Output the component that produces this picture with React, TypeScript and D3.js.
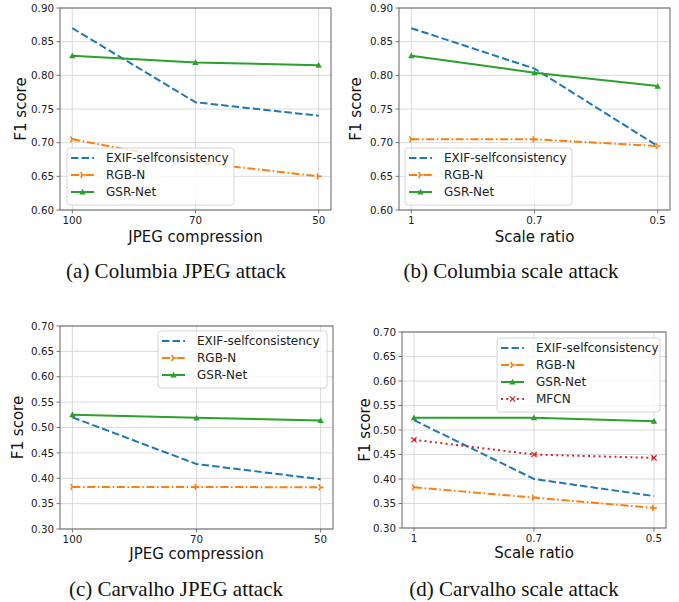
import React from 'react';
import * as d3 from 'd3';

// x categories
const jpegLevels = ['100', '70', '50'];
const scaleLevels = ['1', '0.7', '0.5'];

// y tick labels
const columbiaTicks = [0.6, 0.65, 0.7, 0.75, 0.8, 0.85, 0.9];
const carvalhoTicks = [0.3, 0.35, 0.4, 0.45, 0.5, 0.55, 0.6, 0.65, 0.7];

// (a) Columbia JPEG
const colJpegExif = [0.87, 0.76, 0.74];
const colJpegRgbn = [0.705, 0.671, 0.65];
const colJpegGsr = [0.829, 0.819, 0.815];

// (b) Columbia scale
const colScaleExif = [0.87, 0.81, 0.695];
const colScaleRgbn = [0.705, 0.705, 0.695];
const colScaleGsr = [0.829, 0.804, 0.784];

// (c) Carvalho JPEG
const carJpegExif = [0.52, 0.428, 0.398];
const carJpegRgbn = [0.383, 0.383, 0.382];
const carJpegGsr = [0.525, 0.519, 0.514];

// (d) Carvalho scale
const carScaleExif = [0.52, 0.4, 0.365];
const carScaleRgbn = [0.383, 0.362, 0.341];
const carScaleGsr = [0.525, 0.525, 0.518];
const carScaleMfcn = [0.48, 0.45, 0.443];

const seriesNames = ['EXIF-selfconsistency', 'RGB-N', 'GSR-Net', 'MFCN'];
const captions = [
  '(a) Columbia JPEG attack',
  '(b) Columbia scale attack',
  '(c) Carvalho JPEG attack',
  '(d) Carvalho scale attack'
];

const styles: any = {
  'EXIF-selfconsistency': { color: '#1f77b4', dash: '7.4,3.2', marker: 'none' },
  'RGB-N': { color: '#ff7f0e', dash: '8,2.6,1.6,2.6', marker: 'tri' },
  'GSR-Net': { color: '#2ca02c', dash: null, marker: 'up' },
  'MFCN': { color: '#d62728', dash: '2,3.3', marker: 'x' }
};

const panels = [
  {
    cats: jpegLevels, ticks: columbiaTicks, domain: [0.6, 0.9], xlabel: 'JPEG compression',
    data: [colJpegExif, colJpegRgbn, colJpegGsr],
    box: { l: 60, r: 331, t: 8, b: 210 }, ylabX: 20, xlabY: 241.5,
    legend: { x: 67, y: 148, w: 167 }, cap: { x: 176, y: 278 }
  },
  {
    cats: scaleLevels, ticks: columbiaTicks, domain: [0.6, 0.9], xlabel: 'Scale ratio',
    data: [colScaleExif, colScaleRgbn, colScaleGsr],
    box: { l: 399, r: 670, t: 8, b: 210 }, ylabX: 355, xlabY: 241.5,
    legend: { x: 405, y: 148, w: 167 }, cap: { x: 511, y: 278 }
  },
  {
    cats: jpegLevels, ticks: carvalhoTicks, domain: [0.3, 0.7], xlabel: 'JPEG compression',
    data: [carJpegExif, carJpegRgbn, carJpegGsr],
    box: { l: 60, r: 333, t: 326, b: 529 }, ylabX: 17, xlabY: 559,
    legend: { x: 158, y: 331, w: 169 }, cap: { x: 176, y: 596 }
  },
  {
    cats: scaleLevels, ticks: carvalhoTicks, domain: [0.3, 0.7], xlabel: 'Scale ratio',
    data: [carScaleExif, carScaleRgbn, carScaleGsr, carScaleMfcn],
    box: { l: 402, r: 666, t: 332, b: 528 }, ylabX: 364, xlabY: 557.5,
    legend: { x: 497, y: 338, w: 163 }, cap: { x: 514, y: 596 }
  }
];

const sans = 'DejaVu Sans, sans-serif';

function Marker({ kind, x, y, color }: any) {
  if (kind === 'up') {
    const s = 3.2;
    return <path d={`M${x},${y - s}L${x + s},${y + s * 0.8}L${x - s},${y + s * 0.8}Z`} fill={color} />;
  }
  if (kind === 'tri') {
    const s = 3;
    return (
      <path d={`M${x},${y}L${x + s},${y}M${x},${y}L${x - s * 0.6},${y - s}M${x},${y}L${x - s * 0.6},${y + s}`}
        stroke={color} strokeWidth={1.5} fill="none" />
    );
  }
  if (kind === 'x') {
    const s = 2.6;
    return (
      <path d={`M${x - s},${y - s}L${x + s},${y + s}M${x - s},${y + s}L${x + s},${y - s}`}
        stroke={color} strokeWidth={1.3} fill="none" />
    );
  }
  return null;
}

function Panel({ p, idx }: any) {
  const { l, r, t, b } = p.box;
  const x = d3.scalePoint<string>().domain(p.cats).range([l, r]).padding(0.1);
  const y = d3.scaleLinear().domain(p.domain).range([b, t]);
  const line = d3.line<number>().x((_, i) => x(p.cats[i]) as number).y((d) => y(d));
  const names = seriesNames.slice(0, p.data.length);
  const lg = p.legend;
  const rowH = 17;
  const lgH = names.length * rowH + 6;

  return (
    <g>
      {/* grid */}
      {p.ticks.map((v: number) => (
        <line key={'gy' + v} x1={l} x2={r} y1={y(v)} y2={y(v)} stroke="#d2d2d2" strokeWidth={0.8} />
      ))}
      {p.cats.map((c: string) => (
        <line key={'gx' + c} x1={x(c)} x2={x(c)} y1={t} y2={b} stroke="#d2d2d2" strokeWidth={0.8} />
      ))}

      {/* series */}
      {p.data.map((vals: number[], i: number) => {
        const st = styles[names[i]];
        return (
          <g key={names[i]}>
            <path d={line(vals) as string} fill="none" stroke={st.color} strokeWidth={2}
              strokeDasharray={st.dash || undefined} />
            {vals.map((v, j) => (
              <Marker key={j} kind={st.marker} x={x(p.cats[j])} y={y(v)} color={st.color} />
            ))}
          </g>
        );
      })}

      {/* spines */}
      <rect x={l} y={t} width={r - l} height={b - t} fill="none" stroke="#555" strokeWidth={0.9} />

      {/* y axis */}
      {p.ticks.map((v: number) => (
        <g key={'ty' + v}>
          <line x1={l - 3.5} x2={l} y1={y(v)} y2={y(v)} stroke="#555" strokeWidth={0.8} />
          <text x={l - 6} y={y(v)} dy="0.36em" textAnchor="end" fontSize={10.3} fontFamily={sans} fill="#222">
            {d3.format('.2f')(v)}
          </text>
        </g>
      ))}
      {/* x axis */}
      {p.cats.map((c: string) => (
        <g key={'tx' + c}>
          <line x1={x(c)} x2={x(c)} y1={b} y2={b + 3.5} stroke="#555" strokeWidth={0.8} />
          <text x={x(c)} y={b + 14} textAnchor="middle" fontSize={10.3} fontFamily={sans} fill="#222">{c}</text>
        </g>
      ))}

      <text x={(l + r) / 2} y={p.xlabY} textAnchor="middle" fontSize={15} fontFamily={sans} fill="#111">
        {p.xlabel}
      </text>
      <text transform={`translate(${p.ylabX + 5.5},${(t + b) / 2}) rotate(-90)`} textAnchor="middle"
        fontSize={15} fontFamily={sans} fill="#111">F1 score</text>

      {/* legend */}
      <rect x={lg.x} y={lg.y} width={lg.w} height={lgH} rx={3} fill="#fff" fillOpacity={0.8}
        stroke="#cccccc" strokeWidth={0.8} />
      {names.map((n: string, i: number) => {
        const st = styles[n];
        const cy = lg.y + 10 + i * rowH;
        return (
          <g key={'lg' + n}>
            <line x1={lg.x + 4} x2={lg.x + 27} y1={cy} y2={cy} stroke={st.color} strokeWidth={2}
              strokeDasharray={st.dash || undefined} />
            <Marker kind={st.marker} x={lg.x + 15.5} y={cy} color={st.color} />
            <text x={lg.x + 39} y={cy} dy="0.36em" fontSize={12} fontFamily={sans} fill="#222">{n}</text>
          </g>
        );
      })}

      <text x={p.cap.x} y={p.cap.y} textAnchor="middle" fontSize={21} fontFamily="Liberation Serif, serif" fill="#111">
        {captions[idx]}
      </text>
    </g>
  );
}

export default function App() {
  return (
    <svg width={679} height={602} style={{ position: 'absolute', left: 0, top: 0, background: '#fff' }}>
      <rect width={679} height={602} fill="#fff" />
      {panels.map((p, i) => <Panel key={i} p={p} idx={i} />)}
    </svg>
  );
}
